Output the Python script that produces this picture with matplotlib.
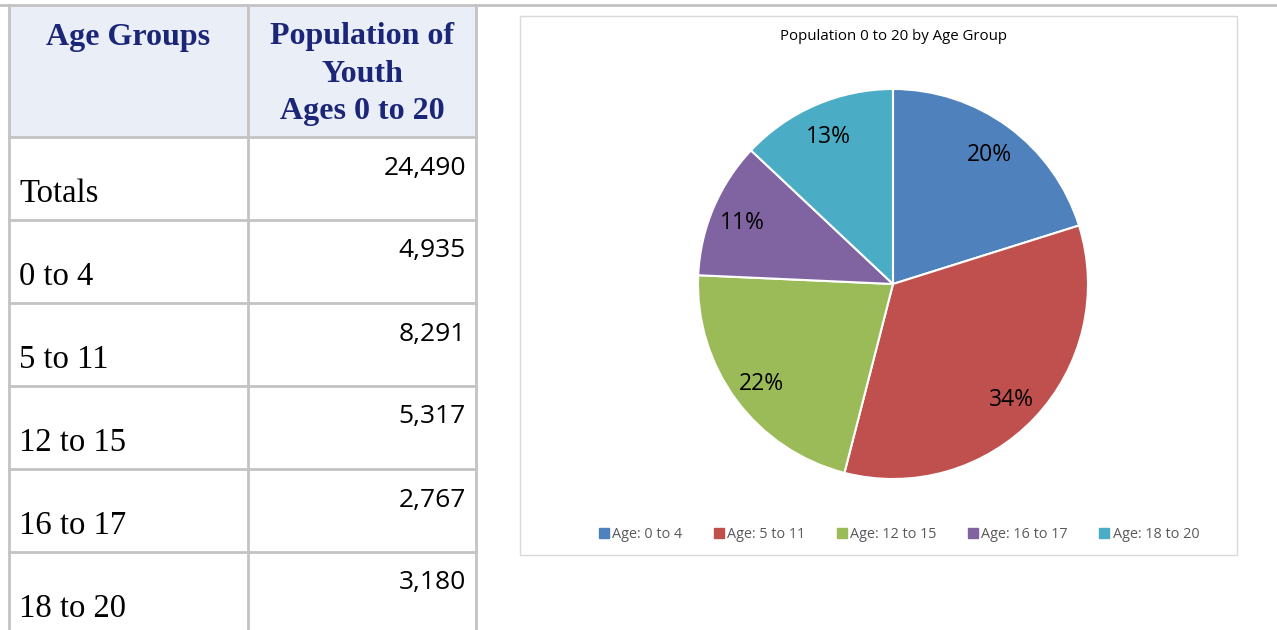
import matplotlib.pyplot as plt
from matplotlib.patches import Rectangle
from matplotlib.lines import Line2D

# table data
age_groups = ['Totals', '0 to 4', '5 to 11', '12 to 15', '16 to 17', '18 to 20']
populations = [24490, 4935, 8291, 5317, 2767, 3180]
header = ['Age Groups', 'Population of\nYouth\nAges 0 to 20']

# pie data
pie_labels = ['Age: ' + g for g in age_groups[1:]]
pie_values = populations[1:]
pie_colors = ['#4F81BD', '#C0504D', '#9BBB59', '#8064A2', '#4BACC6']
chart_title = 'Population 0 to 20 by Age Group'

W, H = 1277, 630
fig = plt.figure(figsize=(W / 100, H / 100), dpi=100)

# full-figure axes in pixel coords for table and frames
bg = fig.add_axes([0, 0, 1, 1])
bg.set_xlim(0, W)
bg.set_ylim(H, 0)
bg.axis('off')

grid_c = '#C3C3C3'
navy = '#1C2678'
serif = ['Liberation Serif', 'DejaVu Serif']
sans = ['Open Sans', 'DejaVu Sans']

# header background
bg.add_patch(Rectangle((9, 5), 467, 132, facecolor='#EAEFF7', edgecolor='none'))

row_tops = [137, 220, 303, 386, 469, 552]
bg.plot([0, W], [5, 5], color=grid_c, lw=2)
for y in row_tops:
    bg.plot([9, 476], [y, y], color=grid_c, lw=2)
for x in [9, 248, 476]:
    bg.plot([x, x], [5, H], color=grid_c, lw=2)

bg.text(128, 37, header[0], ha='center', va='center', fontsize=23,
        fontweight='bold', color=navy, family=serif)
bg.text(362, 74, header[1], ha='center', va='center', fontsize=23,
        fontweight='bold', color=navy, family=serif, linespacing=1.4)

for top, g, p in zip(row_tops, age_groups, populations):
    bg.text(19, top + 57, g, ha='left', va='center', fontsize=23.5,
            color='black', family=serif)
    bg.text(466, top + 31, f'{p:,}', ha='right', va='center', fontsize=19,
            color='black', family=sans)

# chart frame
bg.add_patch(Rectangle((520, 16), 717, 539, facecolor='white',
                       edgecolor='#D9D9D9', lw=1))
bg.text(893, 36, chart_title, ha='center', va='center', fontsize=10.8,
        color='black', family=sans)

# pie
cx, cy, r = 893, 284, 195
pax = fig.add_axes([(cx - r) / W, 1 - (cy + r) / H, 2 * r / W, 2 * r / H])
wedges, texts, autotexts = pax.pie(
    pie_values, colors=pie_colors, startangle=90, counterclock=False,
    radius=1, autopct='%.0f%%', pctdistance=0.84,
    wedgeprops=dict(edgecolor='white', linewidth=1.5),
    textprops=dict(fontsize=16.5, color='black', family=sans))
for t in autotexts:
    x, y = t.get_position()
    t.set_position((x, y - 0.015))
pax.set_xlim(-1, 1)
pax.set_ylim(-1, 1)
pax.set_aspect('equal')
pax.axis('off')

# legend
handles = [Line2D([], [], marker='s', linestyle='none', markersize=6.5,
                  markerfacecolor=c, markeredgecolor=c) for c in pie_colors]
fig.legend(handles, pie_labels, loc='center', ncol=5,
           bbox_to_anchor=(898 / W, 1 - 535 / H), frameon=False,
           prop=dict(family=sans, size=10.4), handletextpad=0.1,
           columnspacing=2.0, handlelength=1.0, labelcolor='#595959')

fig.savefig('out.png', dpi=100)
